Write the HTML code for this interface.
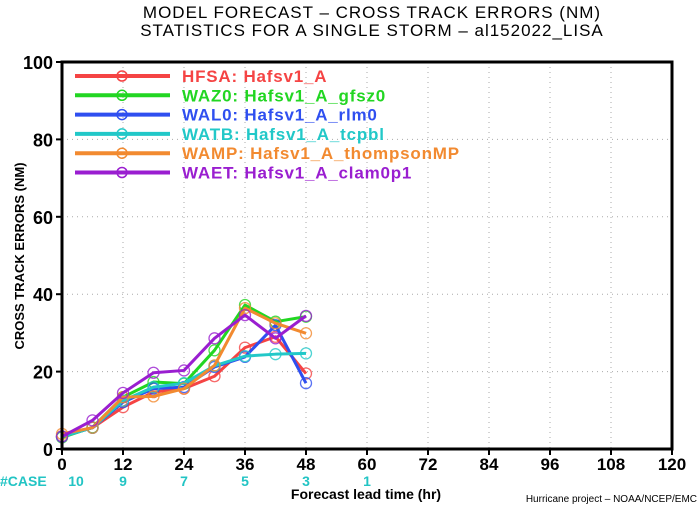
<!DOCTYPE html>
<html><head><meta charset="utf-8"><style>
body{margin:0;background:#fff;}
svg{display:block;font-family:"Liberation Sans",sans-serif;}
</style></head><body>
<svg id="chart" width="700" height="506" viewBox="0 0 700 506">
<text x="372" y="18" text-anchor="middle" font-size="17" letter-spacing="1">MODEL FORECAST – CROSS TRACK ERRORS (NM)</text>
<text x="372" y="36" text-anchor="middle" font-size="17" letter-spacing="1">STATISTICS FOR A SINGLE STORM – al152022_LISA</text>
<g id="grid"></g>
<g id="series"></g>
<rect x="62" y="62" width="610" height="387" fill="none" stroke="#000" stroke-width="3"/>
<g id="axes"></g>
<g id="legend"></g>
<text transform="translate(24,256) rotate(-90)" text-anchor="middle" font-size="13" font-weight="bold">CROSS TRACK ERRORS (NM)</text>
<text x="366" y="499" text-anchor="middle" font-size="14" font-weight="bold">Forecast lead time (hr)</text>
<text x="697" y="502" text-anchor="end" font-size="10">Hurricane project – NOAA/NCEP/EMC</text>
<text x="0" y="486" font-size="14" font-weight="bold" fill="#22c4c4">#CASE</text>
</svg>
<script>
const hours=[0,6,12,18,24,30,36,42,48];
const xTicks=[0,12,24,36,48,60,72,84,96,108,120];
const yTicks=[0,20,40,60,80,100];
const caseHours=[0,12,24,36,48,60];
const caseCounts=[10,9,7,5,3,1];
const names=["HFSA: Hafsv1_A","WAZ0: Hafsv1_A_gfsz0","WAL0: Hafsv1_A_rlm0","WATB: Hafsv1_A_tcpbl","WAMP: Hafsv1_A_thompsonMP","WAET: Hafsv1_A_clam0p1"];
const colors=["#f54444","#22d622","#2f4ff0","#22c8c8","#f28a30","#9a1ed0"];
const hfsa=[3.3,5.5,10.8,14.7,15.6,18.8,26.2,29,19.5];
const waz0=[3,5.6,13.4,17.3,16.9,25.5,37.2,32.9,34.2];
const wal0=[3.2,5.5,12.1,15.6,16,21.2,23.8,32,17];
const watb=[3.2,5.5,12.5,16,17,21.5,24,24.5,24.7];
const wamp=[3.9,5.5,13.4,13.6,15.6,21.6,36.4,32.5,29.9];
const waet=[3.2,7.4,14.5,19.7,20.3,28.6,34.6,28.6,34.4];
const seriesData=[hfsa,waz0,wal0,watb,wamp,waet];
const sx=h=>62+h*(610/120);
const sy=v=>449-v*3.87;
const NS="http://www.w3.org/2000/svg";
function mk(tag,attrs,parent,txt){const e=document.createElementNS(NS,tag);for(const k in attrs)e.setAttribute(k,attrs[k]);if(txt!==undefined)e.textContent=txt;parent.appendChild(e);return e;}
const grid=document.getElementById('grid'),axes=document.getElementById('axes'),ser=document.getElementById('series'),leg=document.getElementById('legend');
xTicks.forEach(t=>{
 if(t>0&&t<120){const l=mk('line',{x1:sx(t),x2:sx(t),y1:62,y2:449,stroke:'#aaa','stroke-dasharray':'1,4'},grid);
 
 }
 const tk=mk('line',{x1:sx(t),x2:sx(t),y1:449,y2:455,stroke:'#000','stroke-width':2},axes);
 
 
 const tx=mk('text',{x:sx(t),y:470,'text-anchor':'middle','font-size':17,'font-weight':'bold'},axes,t);
 
 
});
yTicks.forEach(t=>{
 if(t>0&&t<100){const l=mk('line',{x1:62,x2:672,y1:sy(t),y2:sy(t),stroke:'#aaa','stroke-dasharray':'1,4'},grid);
 
 }
 const tk=mk('line',{x1:56,x2:62,y1:sy(t),y2:sy(t),stroke:'#000','stroke-width':2},axes);
 
 
 const tx=mk('text',{x:53,y:sy(t)+7,'text-anchor':'end','font-size':18,'font-weight':'bold'},axes,t);
 
 
});
caseHours.forEach((h,i)=>{
 const tx=mk('text',{x:sx(h)+(i===0?14:0),y:486,'text-anchor':'middle','font-size':14,'font-weight':'bold',fill:'#22c4c4'},axes,caseCounts[i]);
 
 
});
seriesData.forEach((d,si)=>{
 const pts=d.map((v,i)=>sx(hours[i])+','+sy(v)).join(' ');
 const pl=mk('polyline',{points:pts,fill:'none',stroke:colors[si],'stroke-width':3,'stroke-linejoin':'round'},ser);
 
 
 d.forEach((v,i)=>{
  const c=mk('circle',{cx:sx(hours[i]),cy:sy(v),r:5.5,fill:'none',stroke:colors[si],'stroke-width':1.3,opacity:0.8},ser);
  
  
 });
});
names.forEach((n,i)=>{
 const y=76+i*19.3;
 const l=mk('line',{x1:75,x2:170,y1:y,y2:y,stroke:colors[i],'stroke-width':4},leg);
 
 
 const c=mk('circle',{cx:122,cy:y,r:5,fill:'none',stroke:colors[i],'stroke-width':1.5},leg);
 
 
 const t=mk('text',{x:182,y:y+6,'font-size':17,'font-weight':'bold','letter-spacing':0.8,fill:colors[i]},leg,n);
 
 
});
</script>
</body></html>
